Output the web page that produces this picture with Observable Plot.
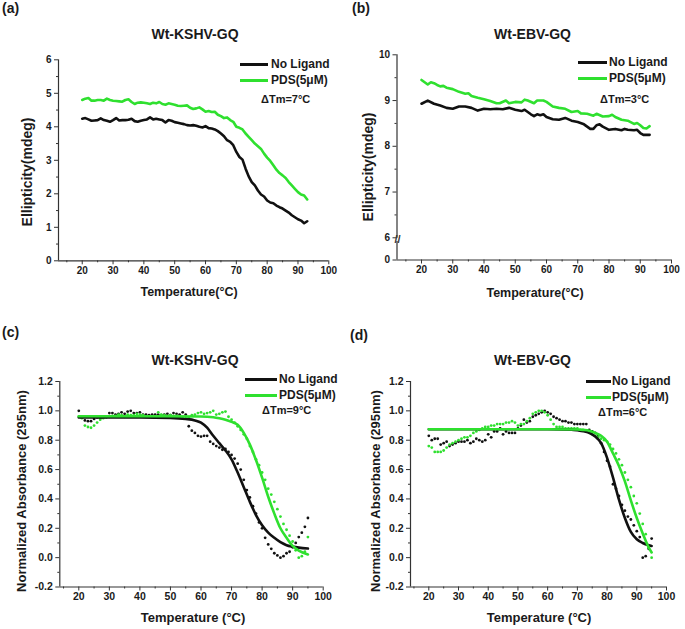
<!DOCTYPE html>
<html><head><meta charset="utf-8">
<script src="https://cdn.jsdelivr.net/npm/d3@7"></script>
<script src="https://cdn.jsdelivr.net/npm/@observablehq/plot@0.6"></script>
<style>
body{margin:0;background:#fff;}
#root{position:relative;width:685px;height:629px;font-family:"Liberation Sans",Arial,sans-serif;font-weight:bold;color:#1a1a1a;overflow:hidden;background:#fff}
.abs{position:absolute;white-space:nowrap;line-height:1;}
.c{transform:translate(-50%,-50%);}
.l{transform:translate(0,-50%);}
.rot{transform:translate(-50%,-50%) rotate(-90deg);}
.pw{position:absolute;}
.leg{position:absolute;height:3px;}
</style></head><body><div id="root"></div>
<script>
// ---------- data ----------
const xTicks = [20, 30, 40, 50, 60, 70, 80, 90, 100];
const xMinorTicks = [15, 25, 35, 45, 55, 65, 75, 85, 95];

// (a) Wt-KSHV-GQ CD melting
const aTemp = [20,21,22,23,24,25,26,27,28,29,30,31,32,33,34,35,36,37,38,39,40,41,42,43,44,45,46,47,48,49,50,51,52,53,54,55,56,57,58,59,60,61,62,63,64,65,66,67,68,69,70,71,72,73,74,75,76,77,78,79,80,81,82,83,84,85,86,87,88,89,90,91,92,93];
const aNoLigand = [4.24,4.26,4.22,4.18,4.19,4.2,4.25,4.2,4.18,4.15,4.2,4.26,4.19,4.2,4.2,4.21,4.24,4.17,4.15,4.18,4.2,4.22,4.28,4.22,4.24,4.22,4.2,4.13,4.2,4.18,4.14,4.12,4.1,4.08,4.05,4.04,4.05,4.03,4.0,3.98,4.02,3.96,3.95,3.92,3.87,3.8,3.72,3.6,3.55,3.45,3.25,3.1,3.02,2.75,2.52,2.35,2.25,2.1,1.98,1.92,1.8,1.74,1.72,1.65,1.6,1.56,1.5,1.44,1.36,1.3,1.24,1.2,1.12,1.18];
const aPDS = [4.8,4.84,4.86,4.78,4.78,4.8,4.8,4.78,4.84,4.8,4.78,4.77,4.76,4.75,4.8,4.82,4.74,4.68,4.72,4.73,4.72,4.7,4.68,4.72,4.7,4.74,4.68,4.66,4.7,4.68,4.66,4.63,4.62,4.63,4.64,4.57,4.53,4.55,4.58,4.52,4.45,4.47,4.44,4.45,4.36,4.32,4.26,4.28,4.2,4.15,4.0,3.97,3.92,3.8,3.7,3.6,3.5,3.42,3.34,3.2,3.08,2.98,2.85,2.72,2.62,2.55,2.47,2.35,2.25,2.15,2.05,1.98,1.95,1.83];
const aYTicks = [0, 1, 2, 3, 4, 5, 6];
const aYMinor = [0.5, 1.5, 2.5, 3.5, 4.5, 5.5];

// (b) Wt-EBV-GQ CD melting
const bTempNo = [20,22,24,26,28,30,32,34,36,38,40,42,44,46,48,50,52,53,55,56,57,58,59,60,62,64,66,68,70,72,74,75,76,77,78,80,82,84,85,86,88,89,90,91,93];
const bNoLigand = [8.93,9.0,8.93,8.89,8.84,8.82,8.87,8.87,8.84,8.78,8.82,8.81,8.82,8.81,8.84,8.8,8.77,8.8,8.7,8.66,8.7,8.68,8.7,8.64,8.59,8.58,8.62,8.56,8.53,8.48,8.38,8.38,8.46,8.48,8.43,8.36,8.38,8.35,8.38,8.36,8.35,8.36,8.29,8.25,8.25];
const bTempPDS = [20,21,22,23,24,25,26,27,28,30,32,34,35,36,38,40,42,44,45,47,48,50,52,53,54,56,57,59,60,62,64,66,68,70,71,73,75,76,78,80,81,82,84,86,88,89,90,91,92,93];
const bPDS = [9.45,9.4,9.35,9.4,9.38,9.34,9.31,9.32,9.28,9.25,9.19,9.15,9.16,9.1,9.06,9.03,8.99,8.94,8.94,9.0,8.94,8.97,8.96,9.02,9.0,8.94,9.0,9.0,8.97,8.87,8.84,8.82,8.75,8.77,8.72,8.71,8.67,8.71,8.65,8.66,8.69,8.64,8.58,8.56,8.49,8.51,8.46,8.4,8.39,8.44];
const bYTicks = [0, 6, 7, 8, 9, 10];
const bYMinor = [6.5, 7.5, 8.5, 9.5];

// (c)/(d) UV melting, measured points every 1 °C
const dotTemp = [20,21,22,23,24,25,26,27,28,29,30,31,32,33,34,35,36,37,38,39,40,41,42,43,44,45,46,47,48,49,50,51,52,53,54,55,56,57,58,59,60,61,62,63,64,65,66,67,68,69,70,71,72,73,74,75,76,77,78,79,80,81,82,83,84,85,86,87,88,89,90,91,92,93,94,95];
const cNoLigandPts = [1.0,0.96,0.935,0.93,0.93,0.945,0.955,0.95,0.96,0.96, 0.985,0.985,0.975,0.98,0.99,0.98,0.995,1.0,0.985,0.985, 0.99,0.975,0.975,0.97,0.975,0.975,0.975,0.97,0.975,0.98, 0.97,0.985,0.98,0.975,0.99,0.975,0.895,0.865,0.85,0.83, 0.825,0.83,0.83,0.79,0.775,0.76,0.75,0.735,0.74,0.72, 0.70,0.675,0.64,0.60,0.53,0.46,0.41,0.35,0.30,0.24, 0.2,0.135,0.09,0.06,0.03,0.015,0.0,0.01,0.03,0.04, 0.07,0.10,0.14,0.17,0.21,0.27];
const cPDSPts = [0.96,0.95,0.90,0.89,0.885,0.90,0.92,0.94,0.95,0.955, 0.96,0.965,0.965,0.975,0.97,0.96,0.975,0.97,0.97,0.98, 0.975,0.97,0.96,0.96,0.955,0.96,0.99,0.975,0.97,0.965, 0.97,0.965,0.965,0.96,0.95,0.96,0.955,0.97,0.975,0.985, 0.99,0.98,0.985,0.99,1.0,0.975,0.98,0.99,0.995,0.96, 0.94,0.92,0.895,0.87,0.84,0.81,0.76,0.72,0.67,0.63, 0.58,0.53,0.47,0.43,0.38,0.33,0.28,0.23,0.19,0.15, 0.11,0.05,0.0,0.01,0.04,0.14];
const cFitTempNo = [20,30,40,50,55,58,60,62,64,66,68,70,72,74,76,78,80,82,84,86,88,90,92,95];
const cFitNo = [0.955,0.955,0.955,0.952,0.945,0.935,0.92,0.885,0.83,0.78,0.73,0.67,0.58,0.48,0.38,0.29,0.22,0.17,0.135,0.105,0.085,0.075,0.068,0.062];
const cFitTempPDS = [20,40,60,64,66,68,70,72,74,76,78,80,82,84,86,88,90,92,95];
const cFitPDS = [0.963,0.963,0.962,0.957,0.95,0.94,0.925,0.905,0.85,0.77,0.665,0.545,0.415,0.30,0.20,0.135,0.08,0.048,0.022];

const dNoLigandPts = [0.83,0.80,0.81,0.81,0.77,0.78,0.79,0.76,0.77,0.78, 0.79,0.79,0.79,0.80,0.78,0.79,0.81,0.80,0.79,0.80, 0.84,0.82,0.86,0.86,0.88,0.84,0.86,0.85,0.85,0.85, 0.88,0.90,0.94,0.92,0.93,0.96,0.97,0.98,0.99,1.0, 0.99,0.98,0.96,0.95,0.94,0.93,0.93,0.92,0.92,0.91, 0.91,0.91,0.91,0.91,0.87,0.86,0.85,0.83,0.78,0.72, 0.66,0.62,0.50,0.47,0.42,0.36,0.32,0.28,0.26,0.22, 0.18,0.14,0.0,0.01,0.06,0.13];
const dPDSPts = [0.76,0.75,0.72,0.72,0.72,0.73,0.75,0.77,0.78,0.79, 0.80,0.81,0.82,0.82,0.83,0.85,0.86,0.87,0.88,0.89, 0.89,0.90,0.90,0.91,0.91,0.91,0.92,0.92,0.93,0.92, 0.90,0.91,0.91,0.93,0.95,0.98,0.99,1.0,1.0,0.99, 0.97,0.94,0.91,0.89,0.89,0.89,0.88,0.88,0.88,0.88, 0.88,0.87,0.87,0.86,0.85,0.84,0.83,0.82,0.81,0.80, 0.79,0.77,0.74,0.71,0.67,0.63,0.58,0.53,0.48,0.42, 0.37,0.30,0.23,0.16,0.07,0.0];
const dFitTempNo = [20,40,60,68,70,72,74,76,78,80,82,84,86,88,90,92,94,95];
const dFitNo = [0.875,0.875,0.875,0.872,0.868,0.862,0.85,0.825,0.78,0.68,0.545,0.395,0.27,0.175,0.125,0.10,0.085,0.08];
const dFitTempPDS = [20,40,60,70,72,74,76,78,80,82,84,86,88,90,92,94,95];
const dFitPDS = [0.875,0.875,0.875,0.873,0.87,0.865,0.85,0.83,0.79,0.71,0.625,0.52,0.39,0.27,0.165,0.07,0.035];

const absTicks = [-0.2, 0, 0.2, 0.4, 0.6, 0.8, 1.0, 1.2];
const absMinor = [-0.1, 0.1, 0.3, 0.5, 0.7, 0.9, 1.1];

const seriesNames = ["No Ligand", "PDS(5\u03bcM)"];
const BLACK = "#111111";
const GREEN = "#2fe02f";

// ---------- helpers ----------
const root = document.getElementById("root");
const pts = (xs, ys, f = v => v) => xs.map((x, i) => ({x, y: f(ys[i])}));

// broken y axis for panel (b): 0..6 compressed below the break
const BREAK = 6, SQUEEZE = 0.0809;
const fB = v => v >= BREAK ? v : BREAK - (BREAK - v) * SQUEEZE;
const gB = u => u >= BREAK ? u : BREAK - (BREAK - u) / SQUEEZE;

function addText(txt, x, y, cls, size) {
  const d = document.createElement("div");
  d.className = "abs " + cls;
  d.style.left = x + "px";
  d.style.top = y + "px";
  d.style.fontSize = size + "px";
  d.textContent = txt;
  root.appendChild(d);
}
function addLegend(x0, x1, xText, yBlack, yGreen, dtm, dtmX, dtmY) {
  [[yBlack, BLACK, seriesNames[0]], [yGreen, GREEN, seriesNames[1]]].forEach(([y, col, name]) => {
    const l = document.createElement("div");
    l.className = "leg";
    l.style.left = x0 + "px"; l.style.width = (x1 - x0) + "px";
    l.style.top = (y - 1.5) + "px"; l.style.background = col;
    root.appendChild(l);
    addText(name, xText, y, "l", 12);
  });
  addText("\u0394Tm=" + dtm + "\u00b0C", dtmX, dtmY, "l", 11);
}

function panel(cfg) {
  const {left, top, width, height, mL, mR, mT, mB, xmin, yDomain, yTicks, yMinor, yFmt, marks, yBreak, fs} = cfg;
  const ymin = yDomain[0], ymax = yDomain[1];
  const axisMarks = [];
  if (yBreak) {
    axisMarks.push(Plot.ruleX([xmin], {y1: ymin, y2: yBreak[0], stroke: "#333", strokeWidth: 1.2}));
    axisMarks.push(Plot.ruleX([xmin], {y1: yBreak[1], y2: ymax, stroke: "#333", strokeWidth: 1.2}));
    axisMarks.push(Plot.text(["//"], {x: () => xmin, y: () => (yBreak[0] + yBreak[1]) / 2, text: d => d, fontSize: 11, fontWeight: "bold", fill: "#333", dx: 0.5}));
  } else {
    axisMarks.push(Plot.ruleX([xmin], {y1: ymin, y2: ymax, stroke: "#333", strokeWidth: 1.2}));
  }
  axisMarks.push(Plot.ruleY([ymin], {stroke: "#333", strokeWidth: 1.2}));
  const p = Plot.plot({
    width, height, marginLeft: mL, marginRight: mR, marginTop: mT, marginBottom: mB,
    style: {fontFamily: '"Liberation Sans", Arial, sans-serif', fontSize: fs + "px", fontWeight: "bold", color: "#1a1a1a", background: "transparent", overflow: "visible"},
    x: {domain: [xmin, 100], axis: null, label: null},
    y: {domain: yDomain, axis: null, label: null},
    marks: [
      ...marks,
      ...axisMarks,
      Plot.axisX(xTicks, {anchor: "bottom", tickSize: 4, tickPadding: 2, stroke: "#333", label: null}),
      Plot.axisX(xMinorTicks, {anchor: "bottom", tickSize: 2, tickFormat: () => "", stroke: "#333", label: null}),
      Plot.axisY(yTicks, {anchor: "left", tickSize: 4, tickPadding: 3, tickFormat: yFmt, stroke: "#333", label: null}),
      Plot.axisY(yMinor, {anchor: "left", tickSize: 2, tickFormat: () => "", stroke: "#333", label: null})
    ]
  });
  const w = document.createElement("div");
  w.className = "pw";
  w.style.left = left + "px"; w.style.top = top + "px";
  w.appendChild(p);
  root.appendChild(w);
}

const lineOpts = (col, w) => ({x: "x", y: "y", stroke: col, strokeWidth: w, curve: "linear"});
const fitOpts = (col) => ({x: "x", y: "y", stroke: col, strokeWidth: 2.6, curve: "monotone-x"});
const dotOpts = (col) => ({x: "x", y: "y", r: 1.4, fill: col, stroke: null});

// (a)
panel({left: 0, top: 0, width: 342, height: 310, mL: 58, mR: 13.7, mT: 59.3, mB: 49.7, fs: 10,
  xmin: 12.3, yDomain: [0, 6], yTicks: aYTicks, yMinor: aYMinor, yFmt: d => String(d),
  marks: [
    Plot.line(pts(aTemp, aNoLigand), lineOpts(BLACK, 2.6)),
    Plot.line(pts(aTemp, aPDS), lineOpts(GREEN, 2.6))
  ]});
// (b) broken axis: values below 6 are squeezed via fB
panel({left: 342, top: 0, width: 343, height: 310, mL: 54.5, mR: 14, mT: 54.3, mB: 50.5, fs: 10,
  xmin: 12.16, yDomain: [fB(0), 10], yTicks: bYTicks.map(fB), yMinor: bYMinor.map(fB),
  yFmt: u => String(Math.round(gB(u))),
  yBreak: [fB(5.0), fB(5.9)],
  marks: [
    Plot.line(pts(bTempNo, bNoLigand, fB), lineOpts(BLACK, 2.6)),
    Plot.line(pts(bTempPDS, bPDS, fB), lineOpts(GREEN, 2.6))
  ]});
// (c)
panel({left: 0, top: 310, width: 342, height: 319, mL: 59.3, mR: 19.3, mT: 71, mB: 42.5, fs: 10.5,
  xmin: 13.78, yDomain: [-0.2, 1.2], yTicks: absTicks, yMinor: absMinor, yFmt: d => d.toFixed(1),
  marks: [
    Plot.dot(pts(dotTemp, cNoLigandPts), dotOpts(BLACK)),
    Plot.dot(pts(dotTemp, cPDSPts), dotOpts(GREEN)),
    Plot.line(pts(cFitTempNo, cFitNo), fitOpts(BLACK)),
    Plot.line(pts(cFitTempPDS, cFitPDS), fitOpts(GREEN))
  ]});
// (d)
panel({left: 342, top: 310, width: 343, height: 319, mL: 68, mR: 19, mT: 71, mB: 42.5, fs: 10.5,
  xmin: 13.84, yDomain: [-0.2, 1.2], yTicks: absTicks, yMinor: absMinor, yFmt: d => d.toFixed(1),
  marks: [
    Plot.dot(pts(dotTemp, dNoLigandPts), dotOpts(BLACK)),
    Plot.dot(pts(dotTemp, dPDSPts), dotOpts(GREEN)),
    Plot.line(pts(dFitTempNo, dFitNo), fitOpts(BLACK)),
    Plot.line(pts(dFitTempPDS, dFitPDS), fitOpts(GREEN))
  ]});

// ---------- text ----------
addText("(a)", 2, 8, "l", 14);
addText("(b)", 352, 8, "l", 14);
addText("(c)", 2, 332, "l", 14);
addText("(d)", 350, 335, "l", 14);

addText("Wt-KSHV-GQ", 195, 34, "c", 14);
addText("Wt-EBV-GQ", 532.5, 34, "c", 14);
addText("Wt-KSHV-GQ", 195, 360, "c", 14);
addText("Wt-EBV-GQ", 532.5, 360, "c", 14);

addText("Ellipticity(mdeg)", 27, 172, "rot", 14);
addText("Ellipticity(mdeg)", 368, 167, "rot", 14);
addText("Temperature(\u00b0C)", 189, 292, "c", 12.5);
addText("Temperature(\u00b0C)", 535, 293, "c", 12.5);
addText("Normalized Absorbance (295nm)", 21, 491, "rot", 13);
addText("Normalized Absorbance (295nm)", 375, 491, "rot", 13);
addText("Temperature (\u00b0C)", 193, 617, "c", 13);
addText("Temperature (\u00b0C)", 539, 617, "c", 13);

addLegend(240, 268, 271, 64, 80, 7, 261, 99);
addLegend(578, 607, 609, 62, 78, 3, 600, 99);
addLegend(245, 277, 279, 379, 395, 9, 262, 410);
addLegend(586, 611, 612, 381, 397, 6, 598, 412);
</script></body></html>
